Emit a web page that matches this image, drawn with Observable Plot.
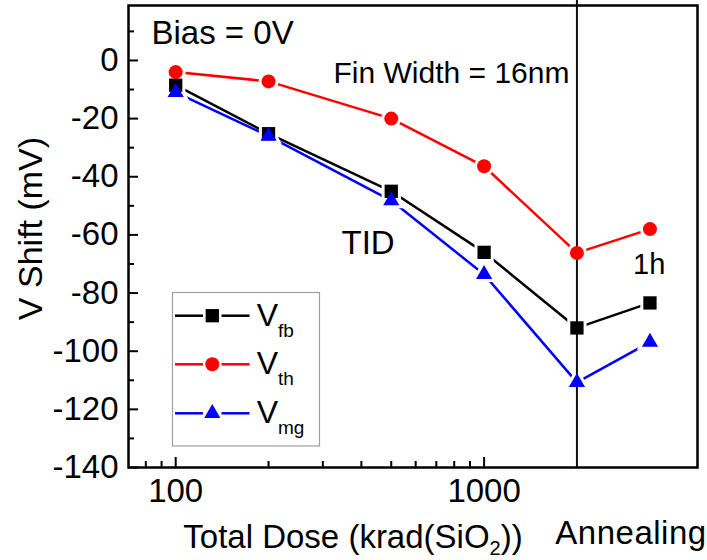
<!DOCTYPE html>
<html><head><meta charset="utf-8">
<script src="https://cdn.jsdelivr.net/npm/d3@7"></script>
<script src="https://cdn.jsdelivr.net/npm/@observablehq/plot@0.6"></script>
<style>
html,body{margin:0;padding:0;background:#fff;}
#chart{width:707px;height:560px;}
svg{font-family:"Liberation Sans",Arial,sans-serif;}
</style></head><body><div id="chart"></div>
<script>
// ---- data ----
const doses = [100, 200, 500, 1000, 2000];      // krad(SiO2)
const annealPos = 3450;                          // x position of the 1h annealing column
const xValues = [...doses, annealPos];
const seriesNames = ["Vfb", "Vth", "Vmg"];
const seriesSubs = ["fb", "th", "mg"];
const vfb = [-8.5, -25.2, -45, -66, -92, -83.4];
const vth = [-4, -7.2, -20, -36.4, -66.2, -58];
const vmg = [-11, -26, -48.2, -73.6, -110.7, -96.9];
const colors = ["#000000", "#ff0000", "#0000ff"];
const yMajor = [-140, -120, -100, -80, -60, -40, -20, 0];
const yMinor = [-130, -110, -90, -70, -50, -30, -10, 10];
const xMajor = [100, 1000];
const xMinor = [80, 90, 200, 300, 400, 500, 600, 700, 800, 900];
const annealLabel = "1h";

const seriesValues = [vfb, vth, vmg];
const rows = seriesNames.flatMap((s, i) => xValues.map((x, j) => ({series: s, dose: x, value: seriesValues[i][j]})));
const symbols = [d3.symbolSquare, d3.symbolCircle, d3.symbolTriangle];
const radii = [7.5, 7, 6];

const font = "'Liberation Sans', Arial, sans-serif";
const haloMarks = seriesNames.map((s, i) =>
  Plot.dot(rows.filter(d => d.series === s), {x: "dose", y: "value", symbol: () => symbols[i], r: radii[i], fill: "white", stroke: "white", strokeWidth: 6}));
const dotMarks = seriesNames.map((s, i) =>
  Plot.dot(rows.filter(d => d.series === s), {x: "dose", y: "value", symbol: () => symbols[i], r: radii[i], fill: colors[i], stroke: "none"}));

const plot = Plot.plot({
  width: 707, height: 560,
  marginLeft: 128, marginRight: 10, marginTop: 5, marginBottom: 93,
  style: {fontFamily: font, fontSize: "33px", color: "#000", background: "#fff", overflow: "visible"},
  x: {type: "log", domain: [70.3, 4920]},
  y: {domain: [-140, 18.9]},
  color: {domain: seriesNames, range: colors},
  marks: [
    Plot.axisY({ticks: yMajor, tickSize: -10, tickPadding: 20, tickFormat: d => String(d), fontSize: 33, label: null, strokeWidth: 2}),
    Plot.axisY({ticks: yMinor, tickSize: -6, tickFormat: () => "", label: null, strokeWidth: 2}),
    Plot.axisX({ticks: xMajor, tickSize: -10, tickPadding: 21, tickFormat: d => String(d), fontSize: 33, label: null, strokeWidth: 2}),
    Plot.axisX({ticks: xMinor, tickSize: -6, tickFormat: () => "", label: null, strokeWidth: 2}),
    Plot.line(rows, {x: "dose", y: "value", z: "series", stroke: "series", strokeWidth: 2.5}),
    ...haloMarks,
    Plot.ruleX([doses[doses.length - 1]], {stroke: "#111", strokeWidth: 2, insetTop: -5}),
    ...dotMarks,
    Plot.frame({stroke: "#000", strokeWidth: 2.5}),
    Plot.text(["Bias = 0V"], {frameAnchor: "top-left", dx: 23, dy: 38.5, textAnchor: "start", lineAnchor: "bottom", fontSize: 33, fill: "#000"}),
    Plot.text(["Fin Width = 16nm"], {frameAnchor: "top-left", dx: 205, dy: 77, textAnchor: "start", lineAnchor: "bottom", fontSize: 30, fill: "#000"}),
    Plot.text(["TID"], {frameAnchor: "top-left", dx: 213, dy: 248, textAnchor: "start", lineAnchor: "bottom", fontSize: 33, fill: "#000"}),
    Plot.text([annealLabel], {frameAnchor: "top-left", dx: 504.5, dy: 268, textAnchor: "start", lineAnchor: "bottom", fontSize: 29, fill: "#000"}),
    Plot.text(["V Shift (mV)"], {frameAnchor: "left", textAnchor: "middle", rotate: -90, dx: -97, dy: -8, fontSize: 34, fill: "#000"})
  ]
});

const svg = d3.select(plot);
// x-axis titles
const xt = svg.append("text").attr("x", 353).attr("y", 548).attr("text-anchor", "middle")
  .attr("font-size", 33).attr("fill", "#000").attr("font-family", font);
xt.append("tspan").text("Total Dose (krad(SiO");
xt.append("tspan").attr("font-size", 20).attr("dy", 7).text("2");
xt.append("tspan").attr("dy", -7).text("))");
svg.append("text").attr("x", 631).attr("y", 543.5).attr("text-anchor", "middle")
  .attr("font-size", 33).attr("letter-spacing", 0.5).attr("fill", "#000").attr("font-family", font).text("Annealing");

// legend
const lg = svg.append("g");
lg.append("rect").attr("x", 172.5).attr("y", 292.5).attr("width", 147).attr("height", 153.5)
  .attr("fill", "#fff").attr("stroke", "#a0a0a0").attr("stroke-width", 1.2);
const rowY = [315.7, 364.3, 413.3];
seriesNames.forEach((s, i) => {
  const y = rowY[i];
  lg.append("line").attr("x1", 175).attr("x2", 203).attr("y1", y).attr("y2", y).attr("stroke", colors[i]).attr("stroke-width", 2.5);
  lg.append("line").attr("x1", 221.5).attr("x2", 249.5).attr("y1", y).attr("y2", y).attr("stroke", colors[i]).attr("stroke-width", 2.5);
  lg.append("path").attr("transform", `translate(212.3,${y})`).attr("fill", colors[i])
    .attr("d", d3.symbol(symbols[i], Math.PI * radii[i] * radii[i])());
  const t = lg.append("text").attr("x", 256.7).attr("y", y + 10).attr("text-anchor", "start")
    .attr("font-size", 32).attr("fill", "#000").attr("font-family", font);
  t.append("tspan").text("V");
  t.append("tspan").attr("font-size", 19).attr("dy", 11).text(seriesSubs[i]);
});

document.getElementById("chart").appendChild(plot);
</script>
</body></html>
